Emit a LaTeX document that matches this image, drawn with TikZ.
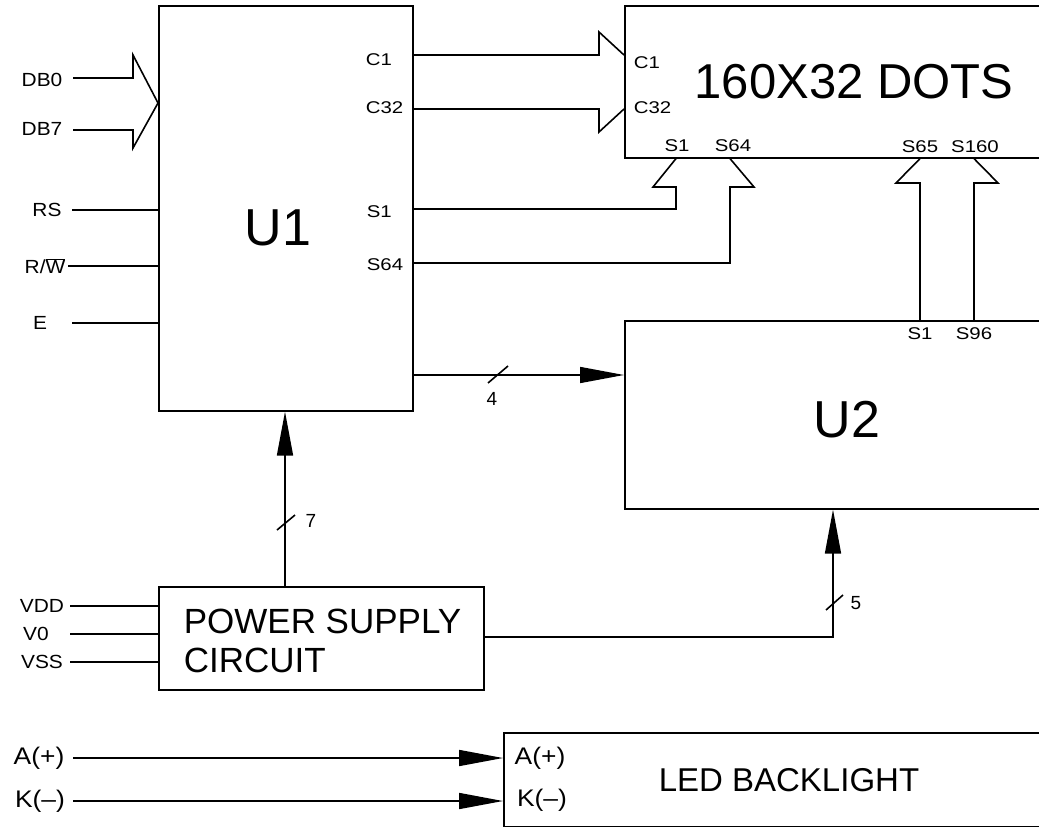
\documentclass[tikz,border=0pt]{standalone}
\usepackage{fontspec}
\setmainfont{Liberation Sans}
\newfontfamily\pinfont[FakeStretch=1.2]{Liberation Sans}
\newfontfamily\inpfont[FakeStretch=1.1]{Liberation Sans}
\usetikzlibrary{arrows.meta}
\begin{document}
\begin{tikzpicture}[x=1pt,y=-1pt,line width=1.6pt,
  box/.style={draw,rectangle,inner sep=0pt,anchor=north west},
  arr/.style={-{Triangle[length=44pt,width=16pt]}},
  inlbl/.style={inner sep=0pt,font=\inpfont\fontsize{19}{19}\selectfont},
  pinlbl/.style={inner sep=0pt,font=\pinfont\fontsize{17}{17}\selectfont},
  numlbl/.style={inner sep=0pt,font=\fontsize{19}{19}\selectfont},
  biglbl/.style={inner sep=0pt,font=\fontsize{52}{52}\selectfont},
  midlbl/.style={inner sep=0pt,font=\fontsize{35}{35}\selectfont},
  ledlbl/.style={inner sep=0pt,font=\inpfont\fontsize{24}{24}\selectfont}]
\useasboundingbox (0,0) rectangle (1039,827);
\clip (0,0) rectangle (1039,827);

% boxes
\node[box,minimum width=254pt,minimum height=405pt] (U1) at (158,5) {};
\node[box,minimum width=440pt,minimum height=152pt] (LCD) at (624,5) {};
\node[box,minimum width=440pt,minimum height=188pt] (U2) at (624,320) {};
\node[box,minimum width=325pt,minimum height=103pt] (PS) at (158,586) {};
\node[box,minimum width=560pt,minimum height=94pt] (LED) at (503,732) {};

% box texts
\node[biglbl] (tU1) at (278,228) {U1};
\node[biglbl] (tU2) at (847,420) {U2};
\node[font=\fontsize{49}{49}\selectfont,inner sep=0pt] (tLCD) at (854,82) {160X32 DOTS};
\node[midlbl,anchor=west] (tPS1) at (183,621) {POWER SUPPLY};
\node[midlbl,anchor=west] (tPS2) at (183,660) {CIRCUIT};
\node[font=\fontsize{33}{33}\selectfont,inner sep=0pt] (tLED) at (789,780) {LED BACKLIGHT};

% U1 pin labels
\node[pinlbl,anchor=west] (lC1) at (365,60) {C1};
\node[pinlbl,anchor=west] (lC32) at (365,108) {C32};
\node[pinlbl,anchor=west] (lS1) at (366,212) {S1};
\node[pinlbl,anchor=west] (lS64) at (366,265) {S64};
% LCD pin labels
\node[pinlbl,anchor=west] (dC1) at (633,63) {C1};
\node[pinlbl,anchor=west] (dC32) at (633,108) {C32};
\node[pinlbl] (dS1) at (677,146) {S1};
\node[pinlbl] (dS64) at (733,146) {S64};
\node[pinlbl] (dS65) at (920,147) {S65};
\node[pinlbl] (dS160) at (975,147) {S160};
% U2 pin labels
\node[pinlbl] (uS1) at (920,334) {S1};
\node[pinlbl] (uS96) at (974,334) {S96};

% input labels
\node[inlbl] (iDB0) at (42,80) {DB0};
\node[inlbl] (iDB7) at (42,129) {DB7};
\node[inlbl] (iRS) at (47,210) {RS};
\node[inlbl] (iRW) at (45,266) {R/$\overline{\hbox{W}}$};
\node[inlbl] (iE) at (40,323) {E};
\node[inlbl] (iVDD) at (42,606) {VDD};
\node[inlbl] (iV0) at (36,634) {V0};
\node[inlbl] (iVSS) at (42,662) {VSS};
\node[ledlbl] (iA) at (39,758) {A(+)};
\node[ledlbl] (iK) at (40,801) {K(–)};
\node[ledlbl] (lA) at (540,758) {A(+)};
\node[ledlbl] (lK) at (542,800) {K(–)};

% coordinates
\coordinate (sDB0) at (73,78);
\coordinate (sDB7) at (73,130);
\coordinate (bDB0) at (133,78);
\coordinate (bDB7) at (133,130);
\coordinate (tipDB) at (158,103);
\coordinate (sRS) at (72,210);
\coordinate (sRW) at (68,266);
\coordinate (sE) at (72,323);
\coordinate (sVDD) at (70,606);
\coordinate (sV0) at (70,634);
\coordinate (sVSS) at (70,662);
\coordinate (sA) at (73,758);
\coordinate (sK) at (73,801);
\coordinate (pC1) at (599,55);
\coordinate (pC32) at (599,109);
\coordinate (pS1) at (676,209);
\coordinate (pS64) at (730,263);
\coordinate (pS65) at (920,183);
\coordinate (pS160) at (974,183);
\coordinate (p4) at (412,375);
\coordinate (p7) at (285,586);
\coordinate (p5) at (833,637);

% DB bus arrow
\draw (sDB0) -- (bDB0) -- (133,55) -- (tipDB) -- (133,148) -- (bDB7) -- (sDB7);

% control inputs
\draw (sRS) -- (U1.west |- sRS);
\draw (sRW) -- (U1.west |- sRW);
\draw (sE) -- (U1.west |- sE);

% power inputs
\draw (sVDD) -- (PS.west |- sVDD);
\draw (sV0) -- (PS.west |- sV0);
\draw (sVSS) -- (PS.west |- sVSS);

% C1 / C32 bus
\draw (U1.east |- pC1) -- (pC1) -- ++(0,-23) -- (LCD.west |- pC1);
\draw (U1.east |- pC32) -- (pC32) -- ++(0,23) -- (LCD.west |- pC32);

% S1 / S64 bus
\draw (U1.east |- pS1) -- (pS1) -- (676,187) -- (653,187) -- (LCD.south -| pS1);
\draw (U1.east |- pS64) -- (pS64) -- (730,187) -- (754,187) -- (LCD.south -| pS64);

% S65 / S160 bus
\draw (U2.north -| pS65) -- (pS65) -- (896,183) -- (LCD.south -| pS65);
\draw (U2.north -| pS160) -- (pS160) -- (998,183) -- (LCD.south -| pS160);

% 4-bit link
\draw[arr] (p4) -- (U2.west |- p4);
\draw (488,383) -- (508,366);
\node[numlbl] (n4) at (492,399) {4};

% power to U1
\draw[arr] (p7) -- (U1.south -| p7);
\draw (277,530) -- (295,515);
\node[numlbl] (n7) at (311,521) {7};

% power to U2
\draw[arr] (PS.east |- p5) -- (p5) -- (U2.south -| p5);
\draw (826,610) -- (843,595);
\node[numlbl] (n5) at (856,603) {5};

% backlight
\draw[arr] (sA) -- (LED.west |- sA);
\draw[arr] (sK) -- (LED.west |- sK);
\end{tikzpicture}
\end{document}
